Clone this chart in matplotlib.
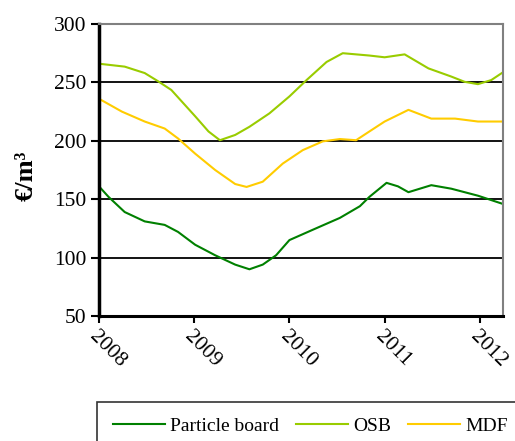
import matplotlib
matplotlib.use('Agg')
import matplotlib.pyplot as plt

# years as decimal positions, values in EUR/m3
pb_years = [2008.00, 2008.10, 2008.27, 2008.48, 2008.69, 2008.83, 2009.01, 2009.22,
            2009.43, 2009.58, 2009.72, 2009.86, 2010.00, 2010.25, 2010.53, 2010.74,
            2010.84, 2011.02, 2011.14, 2011.25, 2011.49, 2011.70, 2011.98, 2012.24]
pb_values = [161, 152, 139, 131, 128, 122, 111, 102,
             94, 90, 94, 102, 115, 124, 134, 144,
             152, 164, 161, 156, 162, 159, 153, 146]

osb_years = [2008.00, 2008.27, 2008.48, 2008.62, 2008.76, 2009.01, 2009.15, 2009.27,
             2009.43, 2009.58, 2009.79, 2010.00, 2010.18, 2010.39, 2010.56, 2010.84,
             2011.00, 2011.21, 2011.46, 2011.70, 2011.84, 2011.98, 2012.12, 2012.24]
osb_values = [266, 263.5, 258, 251, 243.5, 221, 208, 200.5,
              205, 212, 223.5, 238, 252, 267.5, 275, 273,
              271.5, 274, 262, 255, 250.5, 248.5, 252, 258.5]

mdf_years = [2008.00, 2008.24, 2008.48, 2008.69, 2008.83, 2009.01, 2009.22, 2009.43,
             2009.55, 2009.72, 2009.93, 2010.14, 2010.35, 2010.53, 2010.70, 2010.84,
             2011.00, 2011.25, 2011.49, 2011.74, 2011.98, 2012.24]
mdf_values = [236, 225, 216.5, 210.5, 202, 189, 175, 163,
              160.5, 165, 180.5, 192, 199.5, 201.5, 200.5, 208,
              216.5, 226.5, 219, 219, 216.5, 216.5]

x_ticks = [2008, 2009, 2010, 2011, 2012]
y_ticks = [50, 100, 150, 200, 250, 300]

plt.rcParams['font.family'] = ['Liberation Serif', 'DejaVu Serif']

fig = plt.figure(figsize=(5.15, 4.41), dpi=100)
ax = fig.add_axes([99 / 515, 1 - 316 / 441, (502.7 - 99) / 515, (316 - 24) / 441])

l1, = ax.plot(pb_years, pb_values, color='#008000', lw=1.5, label='Particle board')
l2, = ax.plot(osb_years, osb_values, color='#99cc00', lw=1.5, label='OSB')
l3, = ax.plot(mdf_years, mdf_values, color='#ffcc00', lw=1.5, label='MDF')

ax.set_xlim(2008, 2012.24)
ax.set_ylim(50, 300)
ax.set_yticks(y_ticks)
ax.set_xticks(x_ticks)
ax.set_xticklabels([str(y) for y in x_ticks], rotation=-45, ha='left', va='top',
                   rotation_mode='anchor')
for y in y_ticks[1:-1]:
    ax.axhline(y, color='black', lw=1.3, zorder=0)

ax.tick_params(axis='y', direction='out', length=6, width=1.5, labelsize=15.5, pad=3)
ax.tick_params(axis='x', direction='out', length=5, width=1.5, labelsize=15.5, pad=3)

ax.spines['left'].set_linewidth(2.5)
ax.spines['bottom'].set_linewidth(2.2)
ax.spines['left'].set_color('black')
ax.spines['bottom'].set_color('black')
for s in ['top', 'right']:
    ax.spines[s].set_color('#808080')
    ax.spines[s].set_linewidth(1.5)

fig.text(26 / 515, 1 - 176 / 441, '€/m³', rotation=90, fontsize=19,
         fontweight='bold', ha='center', va='center')

leg = fig.legend(handles=[l1, l2, l3], loc='upper left',
                 bbox_to_anchor=(97 / 515, 1 - 402 / 441), ncol=3, fontsize=14,
                 frameon=True, fancybox=False, handlelength=2.7, handletextpad=0.26,
                 columnspacing=0.85, borderpad=0.8, borderaxespad=0)
leg.get_frame().set_edgecolor('black')
leg.get_frame().set_linewidth(1.2)

fig.savefig('out.png', dpi=100)
